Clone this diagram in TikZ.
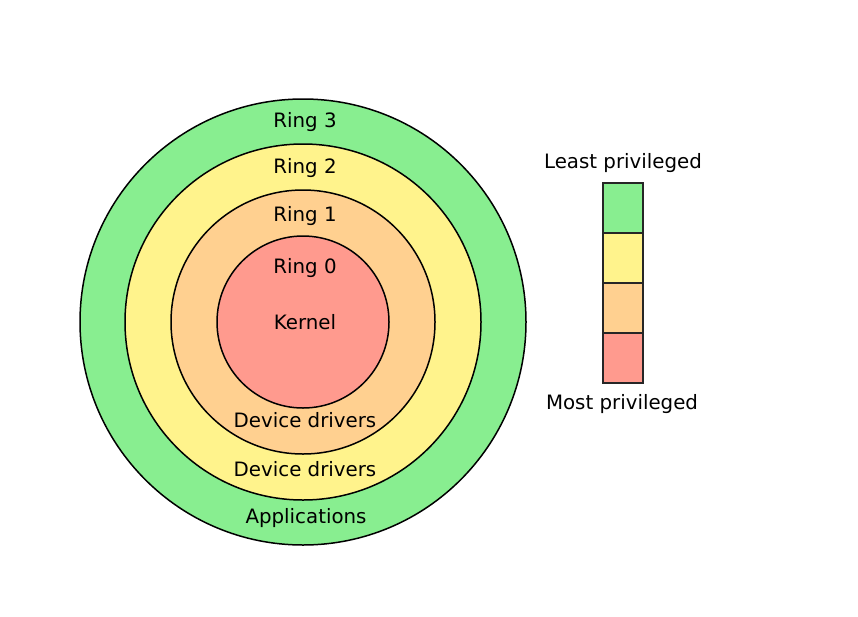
\documentclass[tikz,border=0pt]{standalone}
\usepackage{fontspec}
\setmainfont{DejaVu Sans}
\definecolor{rgreen}{HTML}{88EE90}
\definecolor{ryellow}{HTML}{FFF38C}
\definecolor{rorange}{HTML}{FFD090}
\definecolor{rred}{HTML}{FF9A8E}
\begin{document}
\begin{tikzpicture}[x=1pt,y=-1pt,
  ring/.style={draw=black,line width=1.5pt},
  lbl/.style={font=\fontsize{19.8}{23}\selectfont,inner sep=0pt,anchor=base},
  legbox/.style={draw=black!85,line width=1.5pt,minimum width=40pt,minimum height=50pt,inner sep=0pt,outer sep=0pt}]
\useasboundingbox[fill=white] (0,0) rectangle (858,616);
\coordinate (c) at (303,322);
\filldraw[ring,fill=rgreen] (c) circle (223);
\filldraw[ring,fill=ryellow] (c) circle (178);
\filldraw[ring,fill=rorange] (c) circle (132);
\filldraw[ring,fill=rred] (c) circle (86);
\node[lbl] (r3) at (305,127) {Ring 3};
\node[lbl] (r2) at (305,173) {Ring 2};
\node[lbl] (r1) at (305,221) {Ring 1};
\node[lbl] (r0) at (305,273) {Ring 0};
\node[lbl] (k) at (305,329) {Kernel};
\node[lbl] (d1) at (305,427) {Device drivers};
\node[lbl] (d2) at (305,476) {Device drivers};
\node[lbl] (ap) at (306,523) {Applications};
\node[legbox,fill=rgreen] (b3) at (623,208) {};
\node[legbox,fill=ryellow,anchor=north] (b2) at (b3.south) {};
\node[legbox,fill=rorange,anchor=north] (b1) at (b2.south) {};
\node[legbox,fill=rred,anchor=north] (b0) at (b1.south) {};
\node[lbl] (lp) at (623,168) {Least privileged};
\node[lbl] (mp) at (622,409) {Most privileged};
\end{tikzpicture}
\end{document}
